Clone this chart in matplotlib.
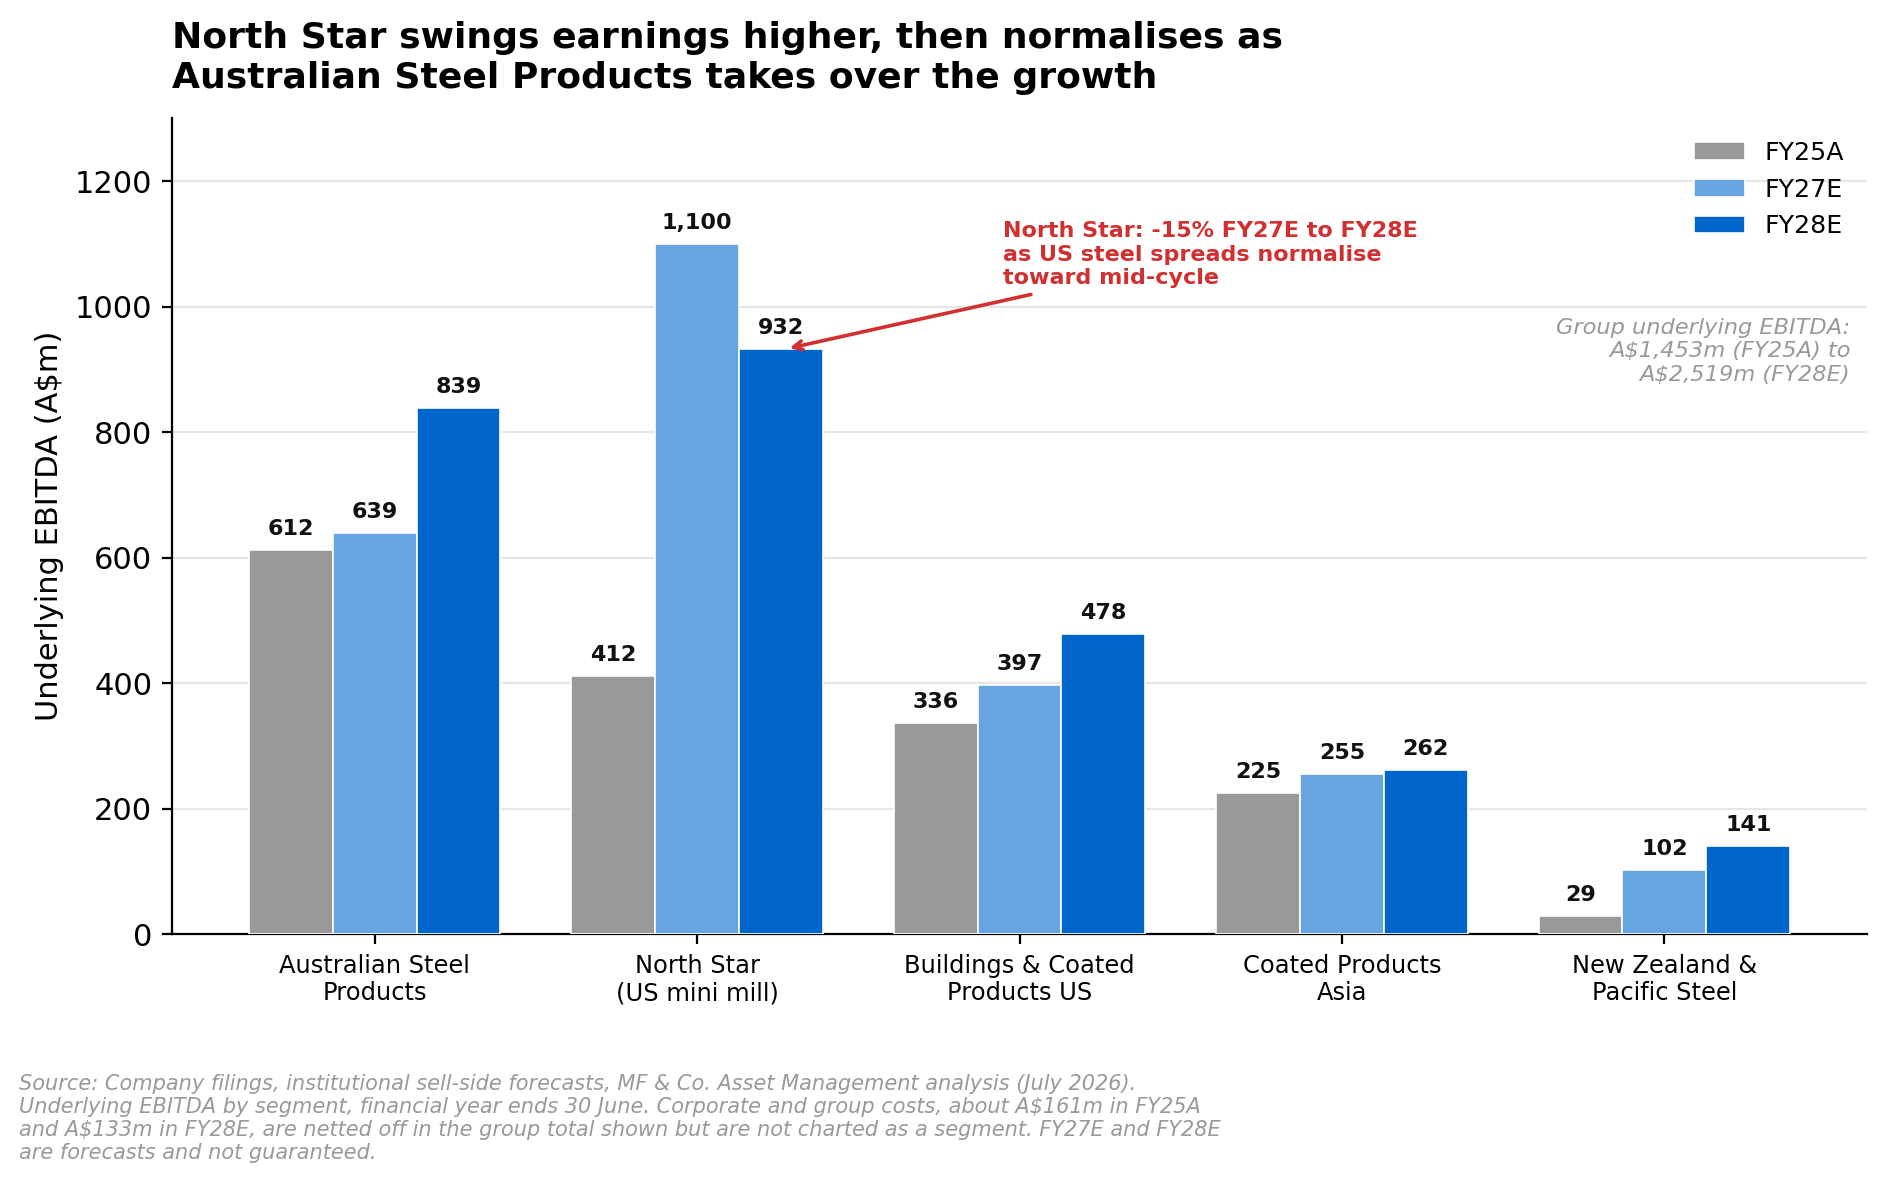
import matplotlib.pyplot as plt
import numpy as np

segments = ["Australian Steel\nProducts", "North Star\n(US mini mill)", "Buildings & Coated\nProducts US",
            "Coated Products\nAsia", "New Zealand &\nPacific Steel"]
series_names = ["FY25A", "FY27E", "FY28E"]
fy25a = [612, 412, 336, 225, 29]
fy27e = [639, 1100, 397, 255, 102]
fy28e = [839, 932, 478, 262, 141]
colors = ["#999999", "#66a5e0", "#0066cc"]

title = "North Star swings earnings higher, then normalises as\nAustralian Steel Products takes over the growth"
note = "Group underlying EBITDA:\nA$1,453m (FY25A) to\nA$2,519m (FY28E)"
callout = "North Star: -15% FY27E to FY28E\nas US steel spreads normalise\ntoward mid-cycle"
footer = ("Source: Company filings, institutional sell-side forecasts, MF & Co. Asset Management analysis (July 2026).\n"
          "Underlying EBITDA by segment, financial year ends 30 June. Corporate and group costs, about A$161m in FY25A\n"
          "and A$133m in FY28E, are netted off in the group total shown but are not charted as a segment. FY27E and FY28E\n"
          "are forecasts and not guaranteed.")


def plot_segments():
    fig = plt.figure(figsize=(9.44, 5.92), dpi=200)
    ax = fig.add_axes([0.091, 0.211, 0.898, 0.689])

    x = np.arange(len(segments))
    width = 0.26
    for i, (name, vals) in enumerate(zip(series_names, [fy25a, fy27e, fy28e])):
        bars = ax.bar(x + (i - 1) * width, vals, width, color=colors[i], edgecolor="white",
                      linewidth=0.6, label=name, zorder=3)
        ax.bar_label(bars, labels=[f"{v:,}" for v in vals], padding=4, fontsize=8,
                     fontweight="bold", color="#111111")

    ax.set_ylim(0, 1300)
    ax.set_yticks(range(0, 1300, 200))
    ax.set_xticks(x)
    ax.set_xticklabels(segments, fontsize=8.7)
    ax.tick_params(axis="y", labelsize=11)
    ax.set_ylabel("Underlying EBITDA (A$m)", fontsize=11)
    ax.grid(axis="y", color="#e6e6e6", linewidth=0.8, zorder=0)
    ax.spines["top"].set_visible(False)
    ax.spines["right"].set_visible(False)

    ax.legend(loc="upper right", frameon=False, fontsize=9.1, handlelength=2.0)

    ax.annotate(callout, xy=(1.27, 932), xytext=(1.95, 1136), ha="left", va="top",
                fontsize=8.0, fontweight="bold", color="#d03030",
                arrowprops=dict(arrowstyle="->", color="#d03030", lw=1.3))

    ax.text(0.99, 0.755, note, transform=ax.transAxes, ha="right", va="top",
            fontsize=8.1, style="italic", color="#999999")

    fig.text(0.091, 0.982, title, ha="left", va="top", fontsize=13, fontweight="bold")
    fig.text(0.01, 0.093, footer, ha="left", va="top", fontsize=7.5, style="italic", color="#999999")

    fig.savefig("out.png", dpi=200)
    plt.close(fig)


if __name__ == '__main__':
    plot_segments()
